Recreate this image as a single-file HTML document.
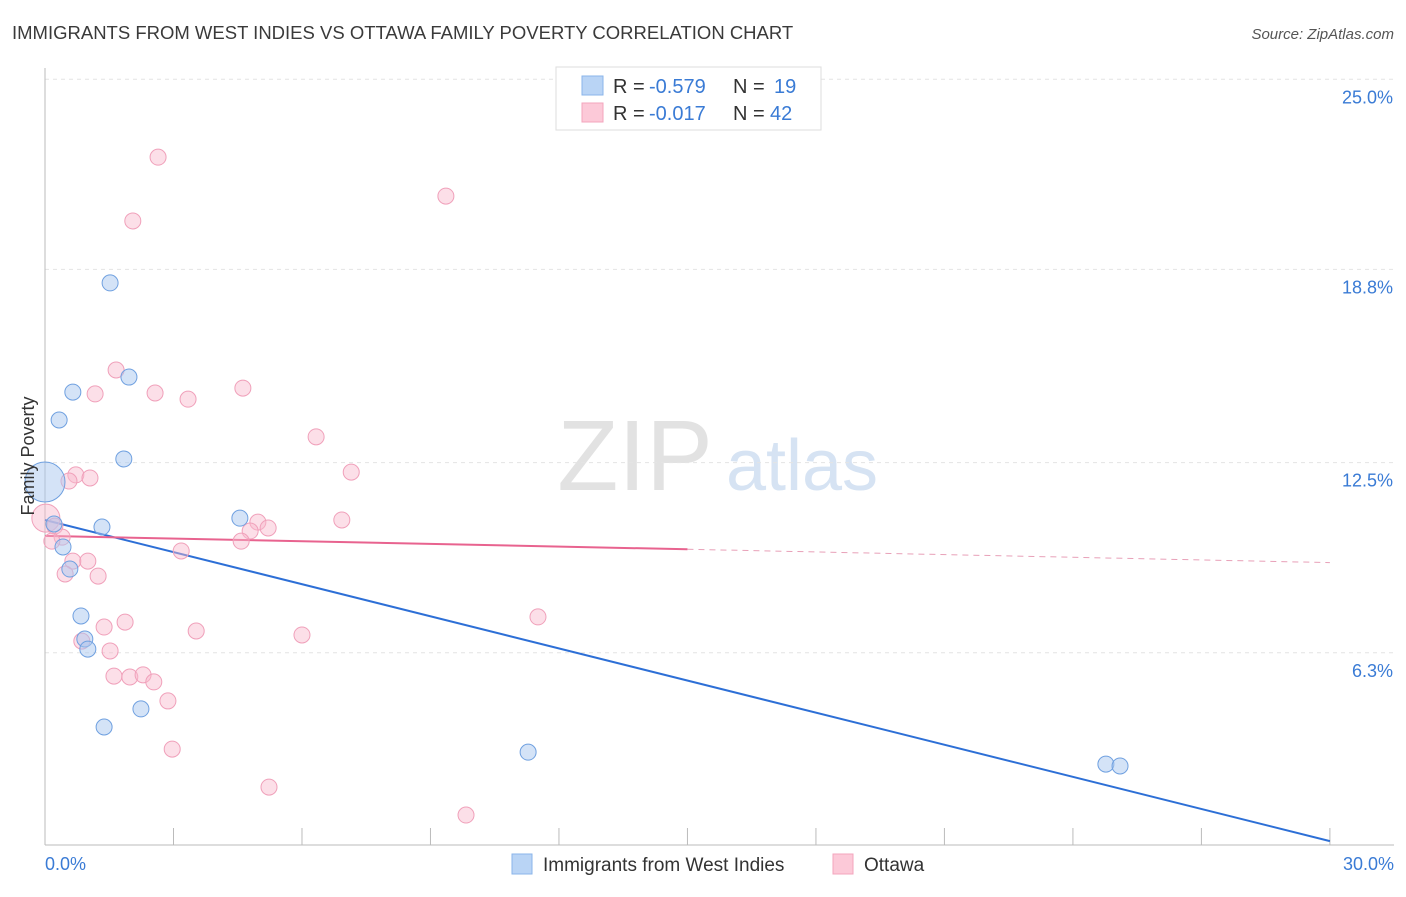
<!DOCTYPE html>
<html><head><meta charset="utf-8"><style>
body{margin:0;background:#fff;font-family:"Liberation Sans",sans-serif}
svg text{font-family:"Liberation Sans",sans-serif}
</style></head><body>
<svg id="chart" width="1406" height="892" xmlns="http://www.w3.org/2000/svg">
<text x="12" y="39" font-size="18.5" fill="#3a3a3a">IMMIGRANTS FROM WEST INDIES VS OTTAWA FAMILY POVERTY CORRELATION CHART</text>
<text x="1394" y="39" font-size="15" fill="#555" font-style="italic" text-anchor="end">Source: ZipAtlas.com</text>
<text x="635" y="490" font-size="100" fill="#e2e2e2" font-family="Liberation Serif" text-anchor="middle">ZIP</text>
<text x="802" y="490" font-size="72" fill="#d6e3f3" text-anchor="middle">atlas</text>
<g id="grid"></g><g id="axes"></g><g id="trends"></g><g id="points"></g>
<text x="34" y="456" font-size="18" fill="#333" text-anchor="middle" transform="rotate(-90 34 456)">Family Poverty</text>
<text x="45" y="870" font-size="18" fill="#3a7bd5">0.0%</text>
<text x="1394" y="870" font-size="18" fill="#3a7bd5" text-anchor="end">30.0%</text>
<g>
<rect x="556" y="67" width="265" height="63" fill="#fff" stroke="#ddd"/>
<rect x="582" y="76" width="21" height="19" fill="#b9d4f5" stroke="#8ab4ea"/>
<rect x="582" y="103" width="21" height="19" fill="#fcc9d8" stroke="#f3a5bd"/>
<text x="613" y="93" font-size="20" fill="#333">R =<tspan x="649" fill="#3a7bd5">-0.579</tspan><tspan x="733">N =</tspan><tspan x="774" fill="#3a7bd5">19</tspan></text>
<text x="613" y="120" font-size="20" fill="#333">R =<tspan x="649" fill="#3a7bd5">-0.017</tspan><tspan x="733">N =</tspan><tspan x="770" fill="#3a7bd5">42</tspan></text>
</g>
<g>
<rect x="512" y="854" width="20" height="20" fill="#b9d4f5" stroke="#8ab4ea"/>
<text x="543" y="871" font-size="19" fill="#333">Immigrants from West Indies</text>
<rect x="833" y="854" width="20" height="20" fill="#fcc9d8" stroke="#f3a5bd"/>
<text x="864" y="871" font-size="19" fill="#333">Ottawa</text>
</g>
</svg>
<script>
const yTicks=[25.0,18.8,12.5,6.3];
const yTickLabels=["25.0%","18.8%","12.5%","6.3%"];
const xTicks=[0,3,6,9,12,15,18,21,24,27,30];
const blueX=[0,1.52,0.65,0.33,1.96,1.84,1.33,4.55,0.21,0.42,0.58,0.84,0.93,1.00,2.24,1.38,11.28,24.77,25.10];
const blueY=[11.87,18.36,14.80,13.89,15.29,12.62,10.40,10.69,10.50,9.75,9.03,7.50,6.75,6.42,4.47,3.88,3.06,2.67,2.61];
const pinkX=[2.64,2.05,9.36,1.66,1.17,2.57,3.34,4.62,6.33,7.15,0.72,0.56,1.05,6.93,4.97,5.21,4.79,4.58,0.02,0.23,0.40,0.16,0.65,1.00,0.47,1.24,3.18,11.51,1.87,1.38,3.53,6.00,0.86,1.52,1.61,1.98,2.29,2.54,2.87,2.97,5.23,9.83];
const pinkY=[22.46,20.38,21.19,15.52,14.74,14.77,14.57,14.93,13.34,12.19,12.10,11.90,12.00,10.63,10.56,10.37,10.27,9.94,10.69,10.43,10.07,9.94,9.29,9.29,8.87,8.80,9.62,7.47,7.30,7.14,7.01,6.88,6.68,6.36,5.54,5.51,5.58,5.35,4.73,3.16,1.92,1.01];
const blueTrend=[10.63,0.16];
const pinkTrend=[10.11,9.24];
const NS="http://www.w3.org/2000/svg";
const sx=v=>45+v*42.83, sy=v=>846-v*30.67;
function mk(t,a,p){const e=document.createElementNS(NS,t);for(const k in a)e.setAttribute(k,a[k]);p.appendChild(e);return e;}
const grid=document.getElementById('grid'),axes=document.getElementById('axes'),tr=document.getElementById('trends'),pts=document.getElementById('points');
yTicks.forEach((v,i)=>{
 const l=mk('line',{x1:45,x2:1394,y1:sy(v),y2:sy(v),stroke:'#e4e4e4','stroke-dasharray':'4,4'},grid);
 
 
 const t=mk('text',{x:1393,y:sy(v)+24,'font-size':18,fill:'#3a7bd5','text-anchor':'end'},grid);
 t.textContent=yTickLabels[i];
 
 
});
const ya=mk('line',{x1:45,x2:45,y1:68,y2:845,stroke:'#bbb'},axes);


const xa=mk('line',{x1:45,x2:1394,y1:845,y2:845,stroke:'#bbb'},axes);


xTicks.forEach(v=>{
 const l=mk('line',{x1:sx(v),x2:sx(v),y1:828,y2:845,stroke:'#bbb'},axes);
 
 
});
const bl=mk('line',{x1:sx(0),y1:sy(blueTrend[0]),x2:sx(30),y2:sy(blueTrend[1]),stroke:'#2d6fd6','stroke-width':2},tr);


const pm=pinkTrend[0]+(pinkTrend[1]-pinkTrend[0])*0.5;
const pl=mk('line',{x1:sx(0),y1:sy(pinkTrend[0]),x2:sx(15),y2:sy(pm),stroke:'#e8638f','stroke-width':2},tr);


const pd=mk('line',{x1:sx(15),y1:sy(pm),x2:sx(30),y2:sy(pinkTrend[1]),stroke:'#e8a0b8','stroke-width':1,'stroke-dasharray':'6,5'},tr);


pinkX.forEach((x,i)=>{
 const c=mk('circle',{cx:sx(x),cy:sy(pinkY[i]),r:i==18?14:8,fill:'rgba(248,184,204,0.45)',stroke:'#f0a0ba','stroke-width':1},pts);
 
 
});
blueX.forEach((x,i)=>{
 const c=mk('circle',{cx:sx(x),cy:sy(blueY[i]),r:i==0?20:8,fill:'rgba(170,200,240,0.5)',stroke:'#6fa0e0','stroke-width':1},pts);
 
 
});
</script>
</body></html>
